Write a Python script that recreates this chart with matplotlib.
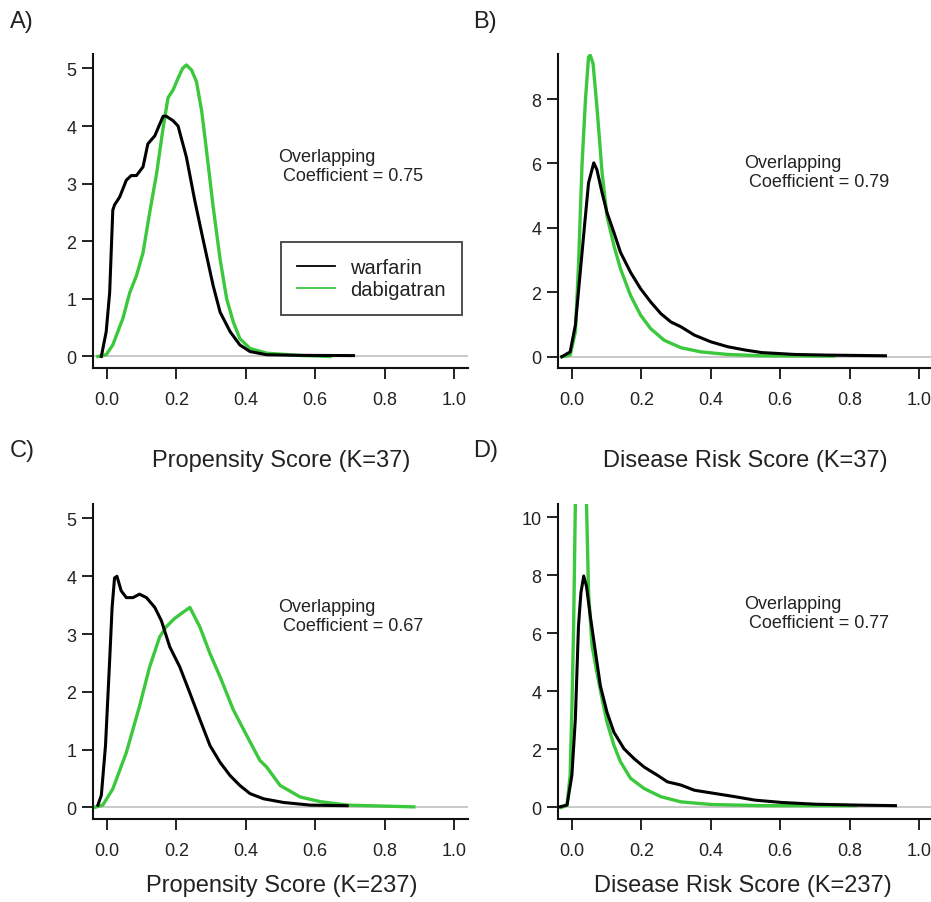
import matplotlib.pyplot as plt
from matplotlib.lines import Line2D

plt.rcParams['font.family'] = ['Liberation Sans', 'DejaVu Sans']

# ---- A) propensity score, K=37
a_war_x = [-0.016, -0.002, 0.008, 0.017, 0.022, 0.037, 0.056, 0.070, 0.085, 0.104, 0.118, 0.138,
           0.152, 0.162, 0.171, 0.191, 0.205, 0.229, 0.253, 0.277, 0.306, 0.326, 0.355, 0.383,
           0.412, 0.46, 0.55, 0.71]
a_war_y = [0.0, 0.43, 1.11, 2.54, 2.63, 2.77, 3.06, 3.14, 3.14, 3.29, 3.69, 3.83,
           4.03, 4.17, 4.17, 4.09, 4.0, 3.46, 2.71, 2.03, 1.23, 0.77, 0.43, 0.2,
           0.086, 0.03, 0.02, 0.015]
a_dab_x = [-0.026, -0.002, 0.017, 0.046, 0.066, 0.085, 0.104, 0.123, 0.143, 0.162, 0.176, 0.191,
           0.205, 0.218, 0.229, 0.244, 0.258, 0.273, 0.287, 0.306, 0.326, 0.345, 0.364, 0.383,
           0.412, 0.46, 0.557, 0.643]
a_dab_y = [0.0, 0.03, 0.2, 0.66, 1.11, 1.4, 1.8, 2.49, 3.17, 3.97, 4.49, 4.63,
           4.83, 5.0, 5.06, 4.97, 4.77, 4.26, 3.57, 2.6, 1.69, 1.0, 0.6, 0.31,
           0.14, 0.057, 0.017, 0.0]

# ---- B) disease risk score, K=37
b_war_x = [-0.029, -0.005, 0.01, 0.024, 0.039, 0.048, 0.063, 0.072, 0.087, 0.101, 0.121, 0.14,
           0.169, 0.198, 0.227, 0.256, 0.285, 0.314, 0.353, 0.401, 0.449, 0.498, 0.546, 0.643,
           0.739, 0.903]
b_war_y = [0.0, 0.15, 0.98, 2.62, 4.37, 5.4, 6.02, 5.81, 5.09, 4.48, 3.86, 3.24,
           2.62, 2.11, 1.7, 1.34, 1.08, 0.93, 0.67, 0.46, 0.31, 0.21, 0.13, 0.07,
           0.05, 0.03]
b_dab_x = [-0.029, -0.005, 0.01, 0.019, 0.029, 0.039, 0.048, 0.053, 0.061, 0.072, 0.087, 0.101,
           0.121, 0.14, 0.169, 0.198, 0.227, 0.266, 0.314, 0.372, 0.449, 0.546, 0.754]
b_dab_y = [0.0, 0.05, 0.77, 2.83, 5.92, 7.97, 9.31, 9.36, 9.1, 7.77, 5.71, 4.37,
           3.45, 2.73, 1.9, 1.29, 0.87, 0.51, 0.28, 0.15, 0.07, 0.03, 0.02]

# ---- C) propensity score, K=237
c_war_x = [-0.026, -0.016, -0.004, 0.008, 0.015, 0.022, 0.029, 0.041, 0.056, 0.075, 0.094, 0.114,
           0.138, 0.157, 0.181, 0.21, 0.239, 0.268, 0.297, 0.326, 0.355, 0.383, 0.412, 0.451,
           0.509, 0.586, 0.692]
c_war_y = [0.04, 0.21, 1.07, 2.55, 3.46, 3.97, 4.0, 3.75, 3.63, 3.63, 3.69, 3.63,
           3.46, 3.23, 2.78, 2.43, 1.98, 1.52, 1.07, 0.78, 0.55, 0.38, 0.24, 0.15,
           0.086, 0.04, 0.03]
c_dab_x = [-0.036, -0.012, 0.017, 0.056, 0.094, 0.123, 0.152, 0.17, 0.195, 0.22, 0.239, 0.268,
           0.297, 0.326, 0.364, 0.403, 0.441, 0.46, 0.499, 0.557, 0.615, 0.692, 0.884]
c_dab_y = [0.0, 0.04, 0.32, 0.95, 1.75, 2.43, 2.95, 3.12, 3.27, 3.38, 3.46, 3.12,
           2.66, 2.26, 1.69, 1.24, 0.81, 0.7, 0.38, 0.18, 0.1, 0.04, 0.01]

# ---- D) disease risk score, K=237
d_war_x = [-0.034, -0.014, 0.0, 0.01, 0.019, 0.026, 0.034, 0.042, 0.053, 0.068, 0.082, 0.101,
           0.121, 0.15, 0.179, 0.208, 0.246, 0.275, 0.314, 0.353, 0.411, 0.469, 0.527, 0.604,
           0.7, 0.816, 0.932]
d_war_y = [0.02, 0.08, 1.11, 3.05, 6.25, 7.39, 7.97, 7.62, 6.59, 5.34, 4.19, 3.28,
           2.59, 2.02, 1.68, 1.39, 1.11, 0.88, 0.77, 0.59, 0.48, 0.37, 0.25, 0.17,
           0.11, 0.08, 0.06]
d_dab_x = [-0.03, -0.014, -0.005, 0.0, 0.005, 0.01, 0.014, 0.026, 0.038, 0.042, 0.048, 0.058,
           0.072, 0.087, 0.101, 0.121, 0.14, 0.169, 0.208, 0.256, 0.314, 0.401, 0.546, 0.816]
d_dab_y = [0.0, 0.08, 1.11, 3.4, 6.25, 10.5, 12.5, 13.5, 12.0, 10.5, 7.4, 5.57,
           4.65, 3.74, 2.94, 2.14, 1.57, 1.0, 0.65, 0.37, 0.19, 0.1, 0.06, 0.06]

overlap = ['0.75', '0.79', '0.67', '0.77']
letters = ['A)', 'B)', 'C)', 'D)']
xlabels = ['Propensity Score (K=37)', 'Disease Risk Score (K=37)',
           'Propensity Score (K=237)', 'Disease Risk Score (K=237)']
yticks = [[0, 1, 2, 3, 4, 5], [0, 2, 4, 6, 8], [0, 1, 2, 3, 4, 5], [0, 2, 4, 6, 8, 10]]
ylims = [(-0.2, 5.25), (-0.35, 9.4), (-0.2, 5.25), (-0.4, 10.45)]
text_pos = [(0.493, 3.3), (0.497, 5.74), (0.494, 3.32), (0.497, 6.69)]

curves = [(a_war_x, a_war_y, a_dab_x, a_dab_y),
          (b_war_x, b_war_y, b_dab_x, b_dab_y),
          (c_war_x, c_war_y, c_dab_x, c_dab_y),
          (d_war_x, d_war_y, d_dab_x, d_dab_y)]

GREEN = '#3cc83c'
TXT = '#222222'

fig = plt.figure(figsize=(9.31, 9.03), dpi=100)
W, H = 931, 903
# axes boxes in pixels: left, top, right, bottom
boxes = [(93, 55, 468, 369), (558, 55, 933, 369), (93, 505, 468, 820), (558, 505, 933, 820)]
letter_pos = [(10, 22), (473, 22), (10, 451), (473, 451)]
label_pos = [(281, 461), (745, 461), (282, 886), (743, 886)]

for i in range(4):
    l, t, r, b = boxes[i]
    ax = fig.add_axes([l / W, 1 - b / H, (r - l) / W, (b - t) / H])
    wx, wy, gx, gy = curves[i]
    ax.axhline(0, color='#c0c0c0', lw=1.2, zorder=1)
    ax.plot(wx, wy, color='black', lw=2.2, zorder=3)
    ax.plot(gx, gy, color=GREEN, lw=2.4, zorder=2)
    ax.set_xlim(-0.04, 1.04)
    ax.set_ylim(*ylims[i])
    ax.set_xticks([0, 0.2, 0.4, 0.6, 0.8, 1.0])
    ax.set_xticklabels(['0.0', '0.2', '0.4', '0.6', '0.8', '1.0'])
    ax.set_yticks(yticks[i])
    for s in ['top', 'right']:
        ax.spines[s].set_visible(False)
    for s in ['left', 'bottom']:
        ax.spines[s].set_linewidth(1.5)
        ax.spines[s].set_color('#111111')
    ax.tick_params(axis='both', direction='out', length=8, width=1.3, color='#111111',
                   labelsize=13, labelcolor=TXT)
    ax.tick_params(axis='x', pad=8.5)
    ax.tick_params(axis='y', pad=4)
    tx, ty = text_pos[i]
    ax.text(tx, ty, 'Overlapping\n Coefficient = ' + overlap[i], fontsize=13, color=TXT,
            ha='left', va='center', linespacing=1.15)
    if i == 0:
        handles = [Line2D([], [], color='black', lw=1.3), Line2D([], [], color=GREEN, lw=1.3)]
        leg = ax.legend(handles, ['warfarin', 'dabigatran'], loc='upper left',
                        bbox_to_anchor=((281 - l) / (r - l), (b - 243) / (b - t)),
                        fontsize=14.5, frameon=True, fancybox=False, borderaxespad=0,
                        handlelength=1.9, handletextpad=0.75, labelspacing=0.15,
                        borderpad=0.8)
        leg.get_frame().set_edgecolor('#111111')
        leg.get_frame().set_linewidth(1.3)
        for t_ in leg.get_texts():
            t_.set_color(TXT)
    fig.text(letter_pos[i][0] / W, 1 - letter_pos[i][1] / H, letters[i], fontsize=17,
             color=TXT, ha='left', va='center')
    fig.text(label_pos[i][0] / W, 1 - label_pos[i][1] / H, xlabels[i], fontsize=17,
             color=TXT, ha='center', va='center')

fig.savefig('out.png', dpi=100)
